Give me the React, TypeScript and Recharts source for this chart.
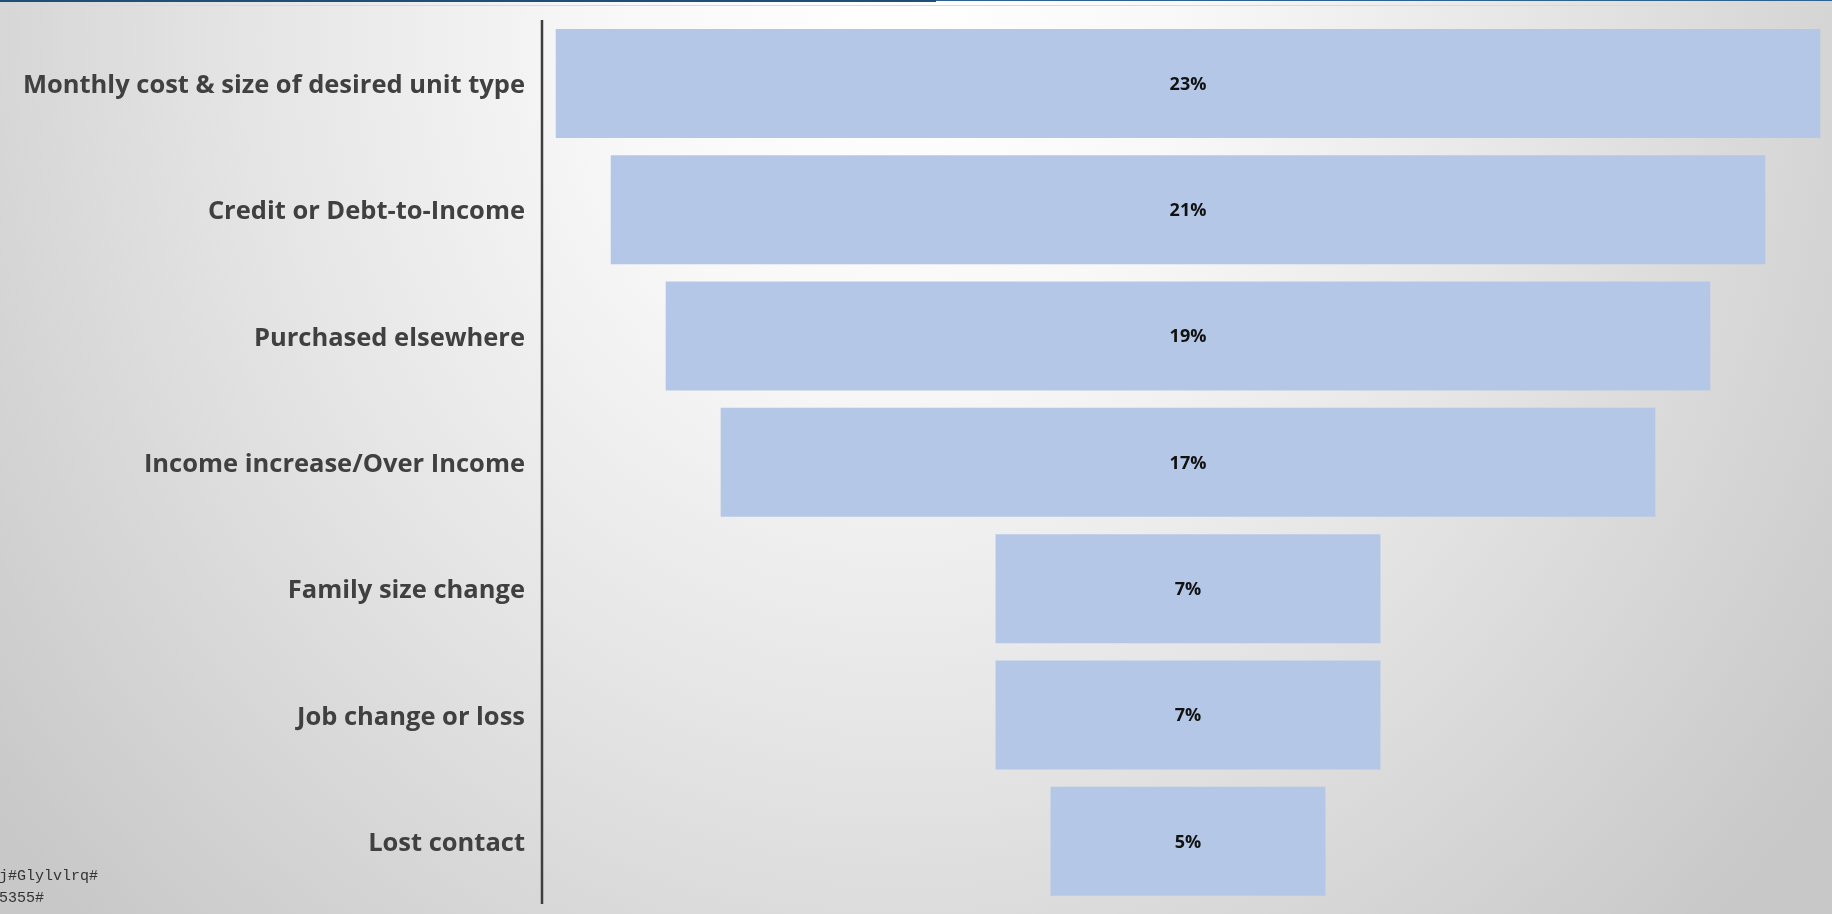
import React from "react";
import { BarChart, Bar, XAxis, YAxis, LabelList } from "recharts";

// Reasons, top to bottom of the funnel
const reasons = [
  "Monthly cost & size of desired unit type",
  "Credit or Debt-to-Income",
  "Purchased elsewhere",
  "Income increase/Over Income",
  "Family size change",
  "Job change or loss",
  "Lost contact",
];

// Share of respondents per reason (%)
const shares = [23, 21, 19, 17, 7, 7, 5];

// Footer text lines
const footerLines = ["j#Glylvlrq#", "5355#"];

// Full width of the value axis; each bar is centred inside it
const FUNNEL_SPAN = 23.5;

const rows = reasons.map((name, i) => ({
  name,
  pad: (FUNNEL_SPAN - shares[i]) / 2,
  value: shares[i],
}));

const LABEL_FONT = "'Open Sans', 'Noto Sans', sans-serif";

const ReasonTick = (props: any) => {
  const { x, y, payload } = props;
  return (
    <text
      x={x}
      y={y}
      textAnchor="end"
      dominantBaseline="central"
      fill="#404040"
      fontFamily={LABEL_FONT}
      fontWeight={700}
      fontSize={25.5}
    >
      {payload.value}
    </text>
  );
};

export default function App() {
  return (
    <div
      style={{
        position: "fixed",
        left: 0,
        top: 0,
        width: 1832,
        height: 914,
        overflow: "hidden",
        background:
          "radial-gradient(ellipse 1150px 1250px at 900px 40px, #ffffff 0%, #f8f8f8 25%, #e6e6e6 55%, #d2d2d2 85%, #c8c8c8 100%)",
      }}
    >
      {/* header rules */}
      <div style={{ position: "absolute", left: 0, top: 0, width: 936, height: 2, background: "#1f4e79" }} />
      <div style={{ position: "absolute", left: 936, top: 0, width: 896, height: 1, background: "#2e6391" }} />
      <div style={{ position: "absolute", left: 0, top: 5, width: 1832, height: 1, background: "#d9d9d9" }} />

      <div style={{ position: "absolute", left: 0, top: 0 }}>
        <BarChart
          width={1834}
          height={914}
          data={rows}
          layout="vertical"
          margin={{ top: 20, right: 0, bottom: 10, left: 0 }}
          barSize={109}
        >
          <XAxis type="number" hide domain={[0, FUNNEL_SPAN]} />
          <YAxis
            type="category"
            dataKey="name"
            width={542}
            axisLine={{ stroke: "#3f3f3f", strokeWidth: 2.5 }}
            tickLine={false}
            tickSize={0}
            tickMargin={17}
            tick={<ReasonTick />}
            interval={0}
          />
          <Bar dataKey="pad" stackId="f" fill="transparent" isAnimationActive={false} />
          <Bar dataKey="value" stackId="f" fill="#b4c7e7" isAnimationActive={false}>
            <LabelList
              dataKey="value"
              position="center"
              formatter={(v: any) => `${v}%`}
              fill="#111111"
              fontFamily={LABEL_FONT}
              fontWeight={700}
              fontSize={18}
            />
          </Bar>
        </BarChart>
      </div>

      <div
        style={{
          position: "absolute",
          left: -1,
          top: 866,
          fontFamily: "'Liberation Mono', 'DejaVu Sans Mono', monospace",
          fontSize: 15,
          lineHeight: "22px",
          color: "#333333",
          whiteSpace: "pre",
        }}
      >
        {footerLines.map((t) => (
          <div key={t}>{t}</div>
        ))}
      </div>
    </div>
  );
}
